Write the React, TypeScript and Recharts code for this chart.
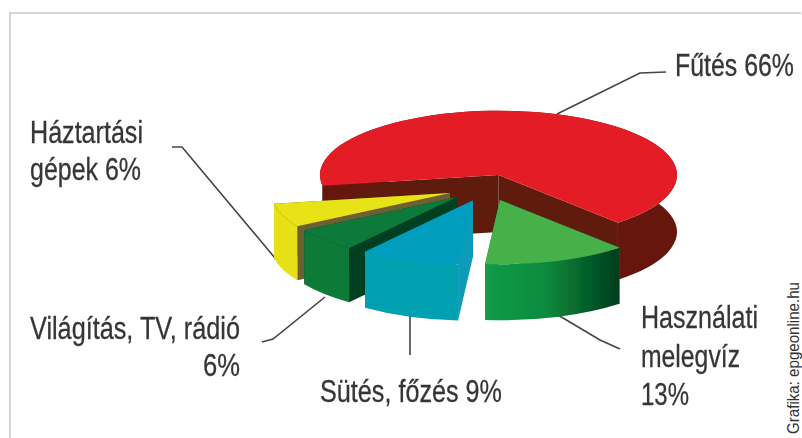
import React from 'react';
import { PieChart, Pie } from 'recharts';

const sliceNames = ['Fűtés', 'Háztartási gépek', 'Világítás, TV, rádió', 'Sütés, főzés', 'Használati melegvíz'];
const sliceValues = [66, 6, 6, 9, 13];

const chartData = sliceNames.map((name, i) => ({ name, value: sliceValues[i] }));

// how far each wedge is pulled out of the pie, and its 3d colours
const sliceOffsets = [[0, 0], [-48.5, 18], [-41.5, 22], [-25.5, 25.5], [1.5, 25]];
const sliceDepths = [57, 54, 54, 56, 56];
const topColors = ['#e31f26', '#e8e313', '#0b7a3a', '#009dbf', '#46b04a'];
const wallColors = ['#66170e', '#e8e014', '#0b7a38', '#02a0b0', 'url(#greenWall)'];
const cutColors = ['#5f1a0c', '#6d5f30', '#003f20', '#0a9cb8', '#129a45'];

const ELLIPSE = 0.36;
const TEXT_COLOR = '#363636';
const LABEL_FONT = "'Liberation Sans', Arial, sans-serif";
const SQUEEZE = 0.8;

const labels = [
  { text: 'Fűtés 66%', x: 675, y: 76, width: 119 },
  { text: 'Háztartási', x: 30, y: 143, width: 113 },
  { text: 'gépek 6%', x: 30, y: 180, width: 111 },
  { text: 'Világítás, TV, rádió', x: 30, y: 339, width: 210 },
  { text: '6%', x: 203, y: 376, width: 37 },
  { text: 'Sütés, főzés 9%', x: 320, y: 402, width: 182 },
  { text: 'Használati', x: 641, y: 328, width: 117 },
  { text: 'melegvíz', x: 641, y: 367, width: 99 },
  { text: '13%', x: 641, y: 405, width: 48 },
];

const leaders = [
  '557,114 640,73 666,72',
  '172,147 182,147 285,270',
  '262,342 273,339 325,297',
  '410,315 410,355',
  '558,315 600,340 620,349',
];

const Slice3D = (props: any) => {
  const { cx, cy, outerRadius, startAngle, endAngle, name } = props;
  const idx = sliceNames.indexOf(name);
  const [dx, dy] = sliceOffsets[idx];
  const depth = sliceDepths[idx];
  const rx = outerRadius;
  const ry = outerRadius * ELLIPSE;
  const ox = cx + dx;
  const oy = cy + dy;
  const pt = (deg: number) => {
    const a = (deg * Math.PI) / 180;
    return [ox + rx * Math.cos(a), oy - ry * Math.sin(a)];
  };
  const [ax, ay] = pt(startAngle);
  const [bx, by] = pt(endAngle);
  const large = Math.abs(endAngle - startAngle) > 180 ? 1 : 0;

  const top = `M${ox},${oy} L${ax},${ay} A${rx},${ry} 0 ${large} 0 ${bx},${by} Z`;
  const wall = `M${ax},${ay} A${rx},${ry} 0 ${large} 0 ${bx},${by} L${bx},${by + depth} A${rx},${ry} 0 ${large} 1 ${ax},${ay + depth} Z`;
  const cutA = `M${ox},${oy} L${ax},${ay} L${ax},${ay + depth} L${ox},${oy + depth} Z`;
  const cutB = `M${ox},${oy} L${bx},${by} L${bx},${by + depth} L${ox},${oy + depth} Z`;

  return (
    <g filter="url(#soft)">
      <path d={cutA} fill={cutColors[idx]} />
      <path d={cutB} fill={cutColors[idx]} />
      <path d={wall} fill={wallColors[idx]} />
      <path d={top} fill={topColors[idx]} />
    </g>
  );
};

export default function App() {
  return (
    <div style={{ position: 'absolute', left: 0, top: 0, width: 802, height: 438, background: '#fff' }}>
      <PieChart width={802} height={438} margin={{ top: 0, right: 0, bottom: 0, left: 0 }}>
        <defs>
          <linearGradient id="greenWall" x1="0" y1="0" x2="1" y2="0">
            <stop offset="0%" stopColor="#129c48" />
            <stop offset="45%" stopColor="#0c8a3e" />
            <stop offset="100%" stopColor="#003d1c" />
          </linearGradient>
          <filter id="soft" filterUnits="userSpaceOnUse" x="0" y="0" width="802" height="438">
            <feGaussianBlur stdDeviation="0.6" />
          </filter>
        </defs>
        <polyline points="801,13 10,13 10,438" fill="none" stroke="#c9c9c9" strokeWidth={1.5} />
        {leaders.map((points, i) => (
          <polyline key={i} points={points} fill="none" stroke="#444" strokeWidth={1.6} filter="url(#soft)" />
        ))}
        <Pie
          data={chartData}
          dataKey="value"
          nameKey="name"
          cx={498.5}
          cy={175}
          outerRadius={178.5}
          startAngle={-48}
          endAngle={312}
          stroke="none"
          shape={Slice3D}
          isAnimationActive={false}
        />
        {labels.map((l) => (
          <g key={l.text} filter="url(#soft)">
            <text
              transform={`translate(${l.x},${l.y}) scale(${SQUEEZE},1)`}
              fontFamily={LABEL_FONT}
              fontSize={31}
              fill={TEXT_COLOR}
              stroke={TEXT_COLOR}
              strokeWidth={0.3}
              textLength={l.width / SQUEEZE}
              lengthAdjust="spacingAndGlyphs"
            >
              {l.text}
            </text>
          </g>
        ))}
        <text
          transform={`translate(799,434) rotate(-90) scale(${SQUEEZE},1)`}
          fontFamily={LABEL_FONT}
          fontSize={16}
          fill="#333"
          textLength={152 / SQUEEZE}
          lengthAdjust="spacingAndGlyphs"
        >
          Grafika: epgeonline.hu
        </text>
      </PieChart>
    </div>
  );
}
